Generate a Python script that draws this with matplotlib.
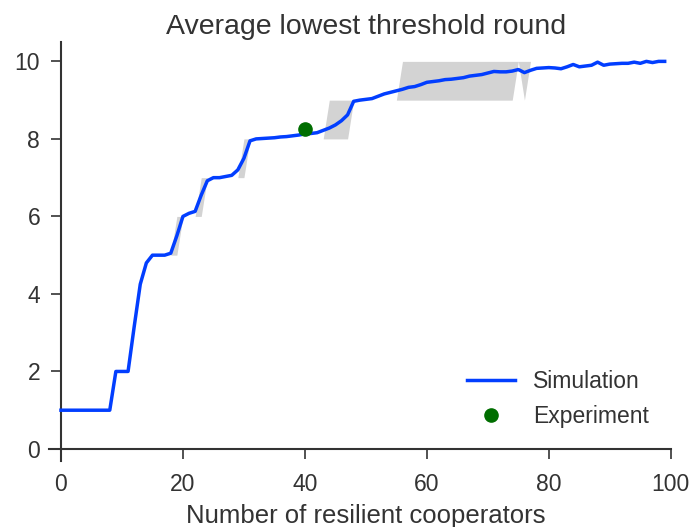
import matplotlib
matplotlib.use("Agg")
import matplotlib.pyplot as plt
import numpy as np

# Number of resilient cooperators (0..99)
cooperators = list(range(100))

# Mean lowest threshold round over simulation runs
simulation_mean = [
    1.0, 1.0, 1.0, 1.0, 1.0, 1.0, 1.0, 1.0, 1.0, 2.0,
    2.0, 2.0, 3.15, 4.25, 4.8, 5.0, 5.0, 5.0, 5.05, 5.5,
    6.0, 6.08, 6.13, 6.55, 6.92, 7.0, 7.0, 7.03, 7.06, 7.2,
    7.5, 7.95, 8.0, 8.01, 8.02, 8.03, 8.05, 8.06, 8.08, 8.1,
    8.13, 8.14, 8.16, 8.22, 8.28, 8.36, 8.47, 8.62, 8.97, 9.0,
    9.02, 9.04, 9.1, 9.16, 9.2, 9.24, 9.28, 9.33, 9.35, 9.4,
    9.46, 9.48, 9.5, 9.53, 9.54, 9.56, 9.58, 9.62, 9.64, 9.66,
    9.7, 9.74, 9.73, 9.73, 9.75, 9.79, 9.71, 9.77, 9.82, 9.83,
    9.84, 9.83, 9.81, 9.86, 9.92, 9.86, 9.88, 9.9, 9.98, 9.9,
    9.93, 9.94, 9.95, 9.95, 9.98, 9.95, 10.0, 9.97, 10.0, 10.0,
]

# Lower and upper bounds of the simulated spread
simulation_low = (
    [1] * 9 + [2] * 3 + [3, 4] + [5] * 6 + [6] * 4 + [7] * 7
    + [8] * 17 + [9] * 27 + [10, 9] + [10] * 23
)
simulation_high = (
    [1] * 9 + [2] * 3 + [3, 4] + [5] * 5 + [6] * 4 + [7] * 7
    + [8] * 14 + [9] * 12 + [10] * 44
)

# Experimental observation
experiment_x = [40]
experiment_y = [8.25]

x_ticks = [0, 20, 40, 60, 80, 100]
y_ticks = [0, 2, 4, 6, 8, 10]

text_color = "#333333"
plt.rcParams["font.family"] = ["Liberation Sans", "DejaVu Sans"]
plt.rcParams["text.color"] = text_color
plt.rcParams["axes.labelcolor"] = text_color
plt.rcParams["xtick.color"] = text_color
plt.rcParams["ytick.color"] = text_color

fig = plt.figure(figsize=(6.94, 5.27), dpi=100)
ax = fig.add_axes([0.0703, 0.126, 0.9138, 0.7943])

ax.fill_between(cooperators, simulation_low, simulation_high,
                color="#d3d3d3", linewidth=0, zorder=1)
ax.plot(cooperators, simulation_mean, color="#023eff", lw=2.5,
        label="Simulation", zorder=3)
ax.plot(experiment_x, experiment_y, "o", color="#006e00", ms=9.5,
        label="Experiment", zorder=4)

ax.set_xlim(-2, 102)
ax.set_ylim(-0.3, 10.5)
ax.set_xticks(x_ticks)
ax.set_yticks(y_ticks)

for side in ("top", "right"):
    ax.spines[side].set_visible(False)
ax.spines["left"].set_position(("data", 0))
ax.spines["bottom"].set_position(("data", 0))
ax.spines["bottom"].set_bounds(-2, 100)
for side in ("left", "bottom"):
    ax.spines[side].set_color(text_color)
    ax.spines[side].set_linewidth(1.5)

ax.tick_params(axis="both", direction="out", length=7.5, width=1.2,
               pad=7.5, labelsize=16.5)
ax.tick_params(axis="x", pad=10)

ax.set_title("Average lowest threshold round", fontsize=20.5, pad=6)
ax.set_xlabel("Number of resilient cooperators", fontsize=18.5, labelpad=5.5)

ax.legend(loc="lower right", frameon=False, fontsize=16.5,
          handlelength=2.1, handletextpad=0.8, labelspacing=0.52,
          bbox_to_anchor=(0.979, 0.028))

fig.savefig("out.png", dpi=100)
